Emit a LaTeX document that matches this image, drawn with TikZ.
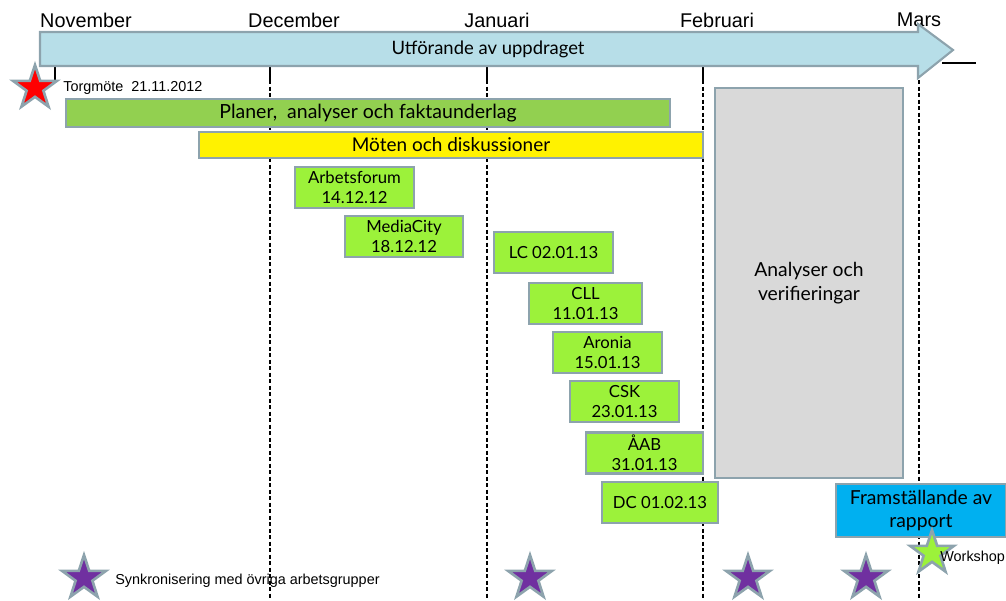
\documentclass[tikz,border=0pt]{standalone}
\usepackage{fontspec}
\setmainfont{Lato}
\newfontfamily\arialfont{Liberation Sans}
\usetikzlibrary{shapes.geometric}
\definecolor{edge}{HTML}{8DA3AD}
\definecolor{arrowblue}{HTML}{B7DEE8}
\definecolor{plangreen}{HTML}{92D050}
\definecolor{meetlime}{HTML}{9CF23A}
\definecolor{anagray}{HTML}{D9D9D9}
\definecolor{repblue}{HTML}{00B0F0}
\definecolor{syncpurple}{HTML}{7030A0}

\begin{document}
\begin{tikzpicture}[x=0.02cm,y=-0.02cm,
  box/.style={draw=edge,line width=1.2pt,align=center,inner sep=0pt,
    font=\fontsize{9.5}{11.3}\selectfont},
  meet/.style={box,fill=meetlime,minimum height=0.82cm},
  month/.style={font=\arialfont\fontsize{11.3}{13}\selectfont},
  note/.style={anchor=west,inner sep=0pt,font=\arialfont\fontsize{8.2}{10}\selectfont},
  starnode/.style={star,star points=5,star point ratio=2.6,draw=edge,
    line width=1.5pt,minimum size=0.92cm,inner sep=0pt}]
  \useasboundingbox (0,0) rectangle (1006,600);

  \foreach \x in {270,487,703,919}
    \draw[dash pattern=on 2.5pt off 1.2pt,line width=0.6pt] (\x,67) -- (\x,600);
  \foreach \x in {55,270,487,703}
    \draw[line width=1.2pt] (\x,67) -- (\x,80);

  \node[month] (nov) at (86,20) {November};
  \node[month] (dec) at (294,20) {December};
  \node[month] (jan) at (497,20) {Januari};
  \node[month] (feb) at (717,20) {Februari};
  \node[month] (mar) at (919,20) {Mars};

  \draw[draw=edge,line width=1.2pt,fill=arrowblue] (40,32) -- (918,32) -- (918,24)
    -- (953,50) -- (918,78) -- (918,66) -- (40,66) -- cycle;
  \node[font=\fontsize{10.5}{12}\selectfont] (task) at (488,49) {Utförande av uppdraget};
  \draw[line width=1.2pt] (942,63) -- (976,63);

  \node[starnode,fill=red] (torg) at (35,88) {};
  \node[note] (torglabel) at (63,88) {Torgmöte\ \ 21.11.2012};

  \node[box,fill=plangreen,minimum width=12.08cm,minimum height=0.56cm,
    font=\fontsize{11.1}{12}\selectfont] (plan) at (368,113) {Planer,\ \ analyser och faktaunderlag};
  \node[box,fill=yellow,minimum width=10.08cm,minimum height=0.52cm,
    font=\fontsize{10.8}{12}\selectfont] (moten) at (451,145) {Möten och diskussioner};
  \node[box,fill=anagray,minimum width=3.76cm,minimum height=7.8cm,
    font=\fontsize{11}{14}\selectfont] (analys) at (809,283) {Analyser och\\verifieringar};

  \node[meet,minimum width=2.38cm] (arb) at (354.5,187.5) {Arbetsforum\\14.12.12};
  \node[meet,minimum width=2.36cm] (media) at (404,236.5) {MediaCity\\18.12.12};
  \node[meet,minimum width=2.38cm] (lc) at (553.5,252.5) {LC 02.01.13};
  \node[meet,minimum width=2.26cm] (cll) at (585.5,303.5) {CLL\\11.01.13};
  \node[meet,minimum width=2.18cm] (aronia) at (607.5,352.5) {Aronia\\15.01.13};
  \node[meet,minimum width=2.18cm] (csk) at (624.5,401.5) {CSK\\23.01.13};
  \node[meet,minimum width=2.34cm] (aab) at (644.5,453) {ÅAB\\31.01.13};
  \node[meet,minimum width=2.32cm] (dc) at (660,502.5) {DC 01.02.13};

  \node[box,fill=repblue,minimum width=3.4cm,minimum height=1.06cm,
    font=\fontsize{11}{13.5}\selectfont] (rapport) at (921,510.5) {Framställande av\\rapport};

  \node[starnode,fill=meetlime] (work) at (932,553) {};
  \node[note] (worklabel) at (940,558) {Workshop};

  \node[starnode,fill=syncpurple] (sync1) at (84,578) {};
  \node[starnode,fill=syncpurple] (sync2) at (530,578) {};
  \node[starnode,fill=syncpurple] (sync3) at (748,578) {};
  \node[starnode,fill=syncpurple] (sync4) at (866,578) {};
  \node[note] (synclabel) at (115,581) {Synkronisering med övriga arbetsgrupper};
\end{tikzpicture}
\end{document}
